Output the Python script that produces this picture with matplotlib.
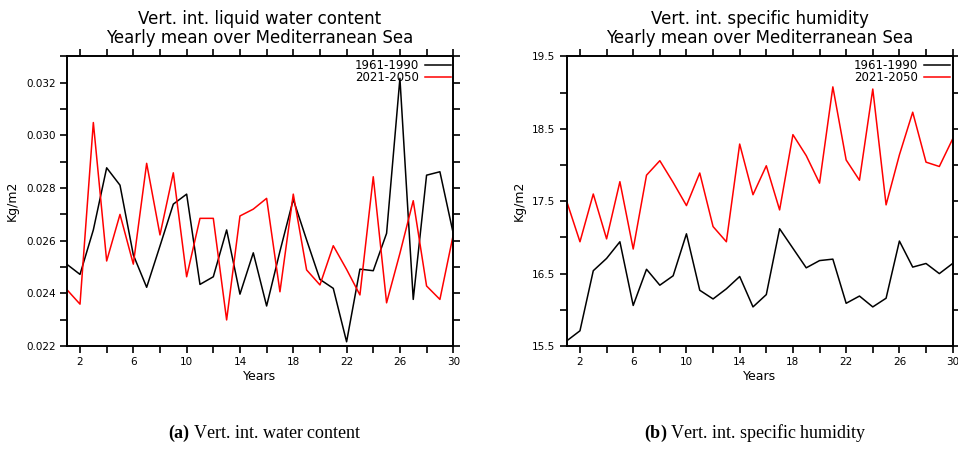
import matplotlib
matplotlib.use('Agg')
import matplotlib.pyplot as plt
import numpy as np
from matplotlib.ticker import FixedLocator

# Years 1..30 of each period
years = np.arange(1, 31)

# Vert. int. liquid water content (Kg/m2)
lwc_1961_1990 = [0.02511, 0.02472, 0.02641, 0.02877, 0.02811, 0.02546, 0.02423, 0.02580, 0.02739, 0.02777,
                 0.02434, 0.02463, 0.02641, 0.02397, 0.02554, 0.02352, 0.02560, 0.02757, 0.02603, 0.02453,
                 0.02419, 0.02216, 0.02492, 0.02486, 0.02628, 0.03217, 0.02377, 0.02849, 0.02862, 0.02628]
lwc_2021_2050 = [0.02415, 0.02359, 0.03049, 0.02523, 0.02700, 0.02511, 0.02894, 0.02622, 0.02858, 0.02463,
                 0.02685, 0.02685, 0.02299, 0.02694, 0.02720, 0.02761, 0.02406, 0.02777, 0.02489, 0.02432,
                 0.02581, 0.02491, 0.02394, 0.02843, 0.02364, 0.02552, 0.02752, 0.02428, 0.02377, 0.02622]

# Vert. int. specific humidity (Kg/m2)
hum_1961_1990 = [15.57, 15.71, 16.54, 16.71, 16.94, 16.06, 16.56, 16.34, 16.47, 17.05,
                 16.27, 16.15, 16.29, 16.46, 16.04, 16.21, 17.12, 16.85, 16.58, 16.68,
                 16.70, 16.09, 16.19, 16.04, 16.16, 16.95, 16.59, 16.64, 16.50, 16.64]
hum_2021_2050 = [17.50, 16.94, 17.60, 16.98, 17.77, 16.84, 17.86, 18.06, 17.76, 17.44,
                 17.89, 17.15, 16.94, 18.29, 17.59, 17.99, 17.38, 18.42, 18.13, 17.75,
                 19.08, 18.07, 17.79, 19.05, 17.45, 18.14, 18.73, 18.04, 17.98, 18.36]

period_labels = ['1961-1990', '2021-2050']
panel_titles  = ['Vert. int. liquid water content\nYearly mean over Mediterranean Sea',
                 'Vert. int. specific humidity\nYearly mean over Mediterranean Sea']
captions      = [r'$\mathbf{(a)}$ Vert. int. water content',
                 r'$\mathbf{(b)}$ Vert. int. specific humidity']

# Labelled and unlabelled y ticks of each panel
lwc_yticks       = [0.022, 0.024, 0.026, 0.028, 0.030, 0.032]
lwc_yticks_minor = [0.023, 0.025, 0.027, 0.029, 0.031, 0.033]
hum_yticks       = [15.5, 16.5, 17.5, 18.5, 19.5]
hum_yticks_minor = [16.0, 17.0, 18.0, 19.0]

plt.rcParams['font.family'] = 'DejaVu Sans'
plt.rcParams['mathtext.fontset'] = 'custom'
plt.rcParams['mathtext.rm'] = 'Liberation Serif'
plt.rcParams['mathtext.bf'] = 'Liberation Serif:bold'

fig = plt.figure(figsize=(9.58, 4.54), dpi=100)
ax1 = fig.add_axes([0.0696, 0.2379, 0.4035, 0.6377])
ax2 = fig.add_axes([0.5915, 0.2379, 0.4029, 0.6377])


def draw_panel(ax, old, new, title, ylim, yticks, yticks_minor, yfmt):
	# Plot both periods
	ax.plot(years, old, color='black', lw=1.1, label=period_labels[0])
	ax.plot(years, new, color='red', lw=1.1, label=period_labels[1])
	ax.set_xlim(1, 30)
	ax.set_ylim(*ylim)
	# Ticks every 2 years, labels every 4 years
	ax.xaxis.set_major_locator(FixedLocator(np.arange(2, 31, 4)))
	ax.xaxis.set_minor_locator(FixedLocator(np.arange(4, 31, 4)))
	ax.yaxis.set_major_locator(FixedLocator(yticks))
	ax.yaxis.set_minor_locator(FixedLocator(yticks_minor))
	ax.yaxis.set_major_formatter(plt.FormatStrFormatter(yfmt))
	ax.tick_params(which='both', direction='out', length=5, width=1.2,
	               top=True, right=True, labelsize=7.5, pad=3)
	for s in ax.spines.values():
		s.set_linewidth(1.4)
	ax.set_title(title, fontsize=12, pad=10, linespacing=1.05)
	ax.set_xlabel('Years', fontsize=9, labelpad=2)
	ax.set_ylabel('Kg/m2', fontsize=9, labelpad=5)
	# Legend in the upper right corner, text before line
	ax.legend(loc='upper right', bbox_to_anchor=(1.0, 1.0), frameon=False, markerfirst=False,
	          fontsize=8.5, handlelength=2.2, handletextpad=0.5, labelspacing=-0.1,
	          borderpad=0.1, borderaxespad=0.1)


draw_panel(ax1, lwc_1961_1990, lwc_2021_2050, panel_titles[0], (0.022, 0.033),
           lwc_yticks, lwc_yticks_minor, '%.3f')
draw_panel(ax2, hum_1961_1990, hum_2021_2050, panel_titles[1], (15.5, 19.5),
           hum_yticks, hum_yticks_minor, '%.1f')

# Captions under the panels
fig.text(0.277, 0.035, captions[0], fontsize=13, family='Liberation Serif', ha='center')
fig.text(0.789, 0.035, captions[1], fontsize=13, family='Liberation Serif', ha='center')

plt.savefig('out.png', dpi=100)
plt.close()
